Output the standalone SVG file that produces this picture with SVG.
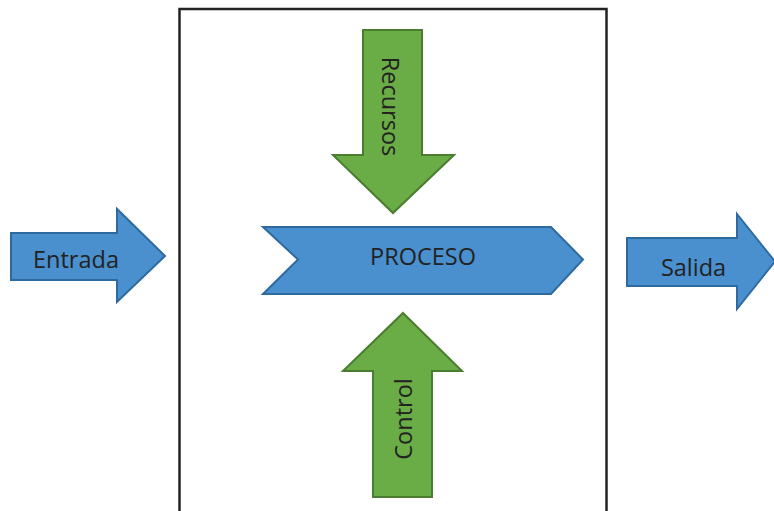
<svg xmlns="http://www.w3.org/2000/svg" width="774" height="511" viewBox="0 0 774 511">
  <style>
    .blue { fill: #4a90cf; stroke: #2e6a9e; stroke-width: 2; stroke-linejoin: miter; }
    .green { fill: #6aac46; stroke: #4a7d30; stroke-width: 2; stroke-linejoin: miter; }
    .lbl { font-family: "Open Sans", "Liberation Sans", sans-serif; font-size: 23.5px; fill: #222; text-anchor: middle; }
  </style>
  <rect width="774" height="511" fill="#ffffff"/>

  <!-- process boundary -->
  <g id="boundary">
    <rect x="179.5" y="9" width="427" height="520" fill="none" stroke="#222" stroke-width="2.5"/>
  </g>

  <g id="entrada">
    <polygon class="blue" points="11,233 117,233 117,209 165,256 117,302 117,280 11,280"/>
    <text class="lbl" x="76" y="268">Entrada</text>
  </g>

  <g id="salida">
    <polygon class="blue" points="627,238 737,238 737,214 775,261.5 737,309 737,286 627,286"/>
    <text class="lbl" x="693.5" y="276">Salida</text>
  </g>

  <g id="proceso">
    <polygon class="blue" points="263,227 551,227 583,259.5 551,294 263,294 298,259.5"/>
    <text class="lbl" x="423" y="265">PROCESO</text>
  </g>

  <g id="recursos">
    <polygon class="green" points="363,30 422,30 422,155 454,155 393,213 333,155 363,155"/>
    <text class="lbl" transform="translate(382,106.5) rotate(90)" x="0" y="0">Recursos</text>
  </g>

  <g id="control">
    <polygon class="green" points="403,313 462,371 432,371 432,497 373,497 373,371 343,371"/>
    <text class="lbl" transform="translate(411.5,419) rotate(-90)" x="0" y="0">Control</text>
  </g>

  <g id="connectors"></g>
</svg>
